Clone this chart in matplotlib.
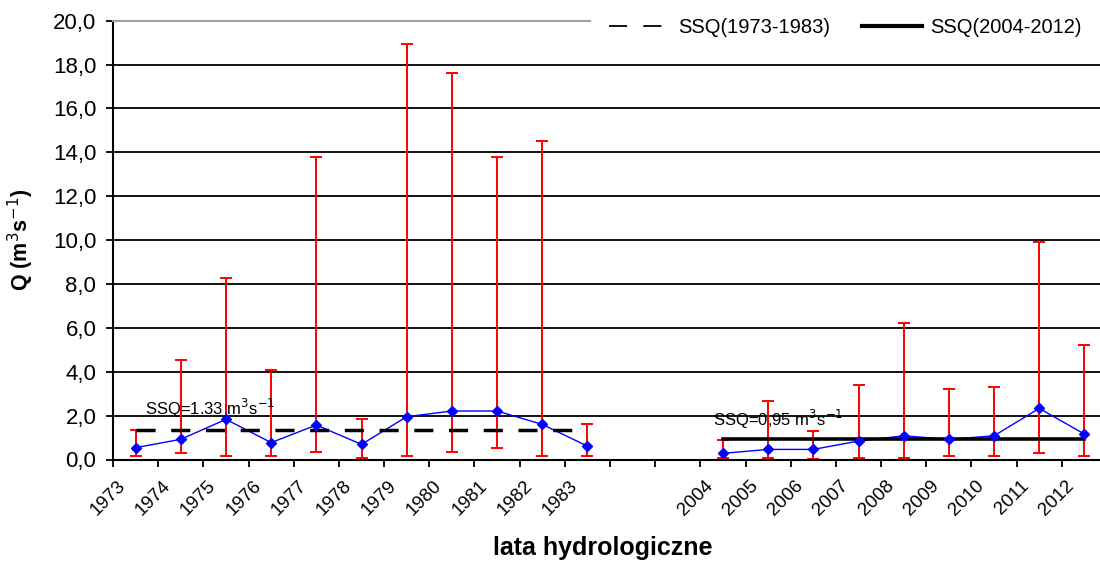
import matplotlib
matplotlib.use("Agg")
import matplotlib.pyplot as plt
import numpy as np
from matplotlib.lines import Line2D
from matplotlib.transforms import ScaledTranslation

plt.rcParams['font.family'] = ['Liberation Sans', 'DejaVu Sans']

# lata hydrologiczne
years_1 = [1973, 1974, 1975, 1976, 1977, 1978, 1979, 1980, 1981, 1982, 1983]
years_2 = [2004, 2005, 2006, 2007, 2008, 2009, 2010, 2011, 2012]

# SSQ (srednie roczne), NNQ (min) i WWQ (max) [m3/s]
mean_1 = [0.54, 0.92, 1.83, 0.77, 1.57, 0.69, 1.95, 2.21, 2.21, 1.60, 0.61]
min_1 = [0.17, 0.28, 0.17, 0.17, 0.36, 0.05, 0.17, 0.36, 0.54, 0.17, 0.17]
max_1 = [1.34, 4.53, 8.27, 4.08, 13.78, 1.85, 18.93, 17.60, 13.80, 14.50, 1.60]

mean_2 = [0.28, 0.46, 0.46, 0.84, 1.08, 0.92, 1.08, 2.33, 1.16]
min_2 = [0.05, 0.05, 0.02, 0.05, 0.05, 0.16, 0.16, 0.28, 0.16]
max_2 = [0.89, 2.66, 1.31, 3.39, 6.22, 3.20, 3.29, 9.91, 5.22]

ssq_1 = 1.33
ssq_2 = 0.95
ssq_1_label = r'SSQ=1.33 m$^{3}$s$^{-1}$'
ssq_2_label = r'SSQ=0,95 m$^{3}$s$^{-1}$'

# pozycje kategorii (dwie puste kategorie miedzy okresami)
gap = 2
pos_1 = np.arange(len(years_1))
pos_2 = np.arange(len(years_2)) + len(years_1) + gap
n_cat = len(years_1) + gap + len(years_2)

fig = plt.figure(figsize=(11, 5.63), dpi=100)
ax = fig.add_axes([113 / 1100, 1 - 459.5 / 563, 994 / 1100, 438.8 / 563])

for pos, mean, lo, hi in [(pos_1, mean_1, min_1, max_1), (pos_2, mean_2, min_2, max_2)]:
    mean = np.array(mean)
    yerr = [mean - np.array(lo), np.array(hi) - mean]
    ax.errorbar(pos, mean, yerr=yerr, fmt='none', ecolor='red', elinewidth=1.4,
                capsize=4, capthick=1.4, zorder=2)
    ax.plot(pos, mean, '-', color='blue', lw=1, zorder=3)
    ax.plot(pos, mean, 'D', color='blue', ms=5, zorder=5)

ax.plot([pos_1[0], pos_1[-1]], [ssq_1, ssq_1], color='black', lw=2.5,
        dashes=(5.5, 4.5), zorder=4)
ax.plot([pos_2[0], pos_2[-1]], [ssq_2, ssq_2], color='black', lw=2.6, zorder=4)

ax.annotate(ssq_1_label, (pos_1[0], ssq_1), xytext=(7, 11), textcoords='offset points',
            fontsize=12, zorder=6)
ax.annotate(ssq_2_label, (pos_2[0], ssq_2), xytext=(-7, 9), textcoords='offset points',
            fontsize=12, zorder=6)

ax.set_xlim(-0.5, n_cat - 0.5)
ax.set_ylim(0, 20)
yt = np.arange(0, 21, 2)
ax.set_yticks(yt)
ax.set_yticklabels([f"{v:.1f}".replace('.', ',') for v in yt], fontsize=16)
ax.tick_params(axis='y', length=5, width=1.3, pad=7)

ax.set_xticks(np.arange(n_cat + 1) - 0.5)
ax.set_xticklabels([])
ax.tick_params(axis='x', which='major', length=5, width=1.3)
ax.set_xticks(np.concatenate([pos_1, pos_2]), minor=True)
ax.set_xticklabels([str(y) for y in years_1 + years_2], minor=True, rotation=45,
                   ha='right', va='center', rotation_mode='anchor', fontsize=13.5)
ax.tick_params(axis='x', which='minor', length=0, pad=17)
for lab in ax.get_xticklabels(minor=True):
    lab.set_transform(lab.get_transform() + ScaledTranslation(-9 / 72, 0, fig.dpi_scale_trans))

ax.yaxis.grid(True, color='black', lw=1.3)
ax.get_ygridlines()[-1].set_visible(False)
ax.set_axisbelow(True)
ax.spines['right'].set_visible(False)
ax.spines['top'].set_color('#a0a0a0')
ax.spines['top'].set_linewidth(1.5)
ax.spines['left'].set_linewidth(1.5)
ax.spines['bottom'].set_linewidth(1.5)

handles = [Line2D([], [], color='black', lw=1.3, dashes=(10, 9)),
           Line2D([], [], color='black', lw=3)]
leg = ax.legend(handles, ['SSQ(1973-1983)', 'SSQ(2004-2012)'], ncol=2,
                loc='upper right', bbox_to_anchor=(1.0, 1.0),
                bbox_transform=fig.transFigure, fontsize=14.5, frameon=True,
                fancybox=False, framealpha=1, edgecolor='none', facecolor='white',
                handlelength=3.0, handletextpad=0.4, columnspacing=1.6,
                borderpad=0.9, borderaxespad=0)

fig.text(21 / 1100, 1 - 240 / 563, r'Q (m$^{3}$s$^{-1}$)', rotation=90, ha='center',
         va='center', fontsize=15.5, fontweight='bold')
fig.text(603 / 1100, 1 - 548 / 563, 'lata hydrologiczne', ha='center', va='center',
         fontsize=18, fontweight='bold')

fig.savefig('out.png', dpi=100)
